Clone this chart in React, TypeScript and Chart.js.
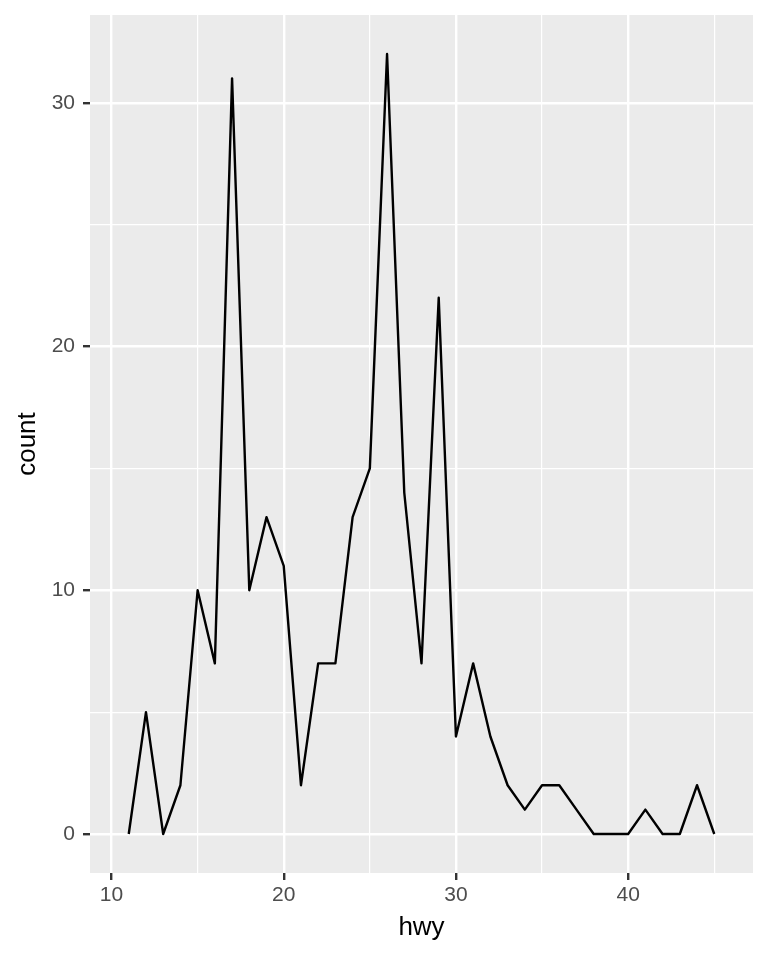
import React, { useEffect, useRef } from "react";
import { Chart, registerables } from "chart.js";

Chart.register(...registerables);

// hwy bin centres (binwidth 1) and counts
const hwyValues = [11, 12, 13, 14, 15, 16, 17, 18, 19, 20, 21, 22, 23, 24, 25, 26, 27, 28, 29, 30, 31, 32, 33, 34, 35, 36, 37, 38, 39, 40, 41, 42, 43, 44, 45];
const countValues = [0, 5, 0, 2, 10, 7, 31, 10, 13, 11, 2, 7, 7, 13, 15, 32, 14, 7, 22, 4, 7, 4, 2, 1, 2, 2, 1, 0, 0, 0, 1, 0, 0, 2, 0];

const xTickValues = [10, 15, 20, 25, 30, 35, 40, 45];
const xMajorTicks = [10, 20, 30, 40];
const yTickValues = [0, 5, 10, 15, 20, 25, 30];
const yMajorTicks = [0, 10, 20, 30];

const xTitle = "hwy";
const yTitle = "count";

const FONT = "'Liberation Sans', Arial, Helvetica, sans-serif";

const panelBg = {
  id: "panelBg",
  beforeDraw(chart: any) {
    const { ctx, chartArea } = chart;
    ctx.save();
    ctx.fillStyle = "#EBEBEB";
    ctx.fillRect(chartArea.left, chartArea.top, chartArea.right - chartArea.left, chartArea.bottom - chartArea.top);
    ctx.restore();
  },
};

export default function App() {
  const ref = useRef<HTMLCanvasElement>(null);

  useEffect(() => {
    if (!ref.current) return;
    const isMajor = (list: number[]) => (c: any) => c.tick && list.includes(c.tick.value);
    const xMaj = isMajor(xMajorTicks);
    const yMaj = isMajor(yMajorTicks);
    const chart = new Chart(ref.current, {
      type: "line",
      data: {
        datasets: [
          {
            data: hwyValues.map((x, i) => ({ x, y: countValues[i] })),
            borderColor: "#000000",
            borderWidth: 2.4,
            pointRadius: 0,
            pointHoverRadius: 0,
            tension: 0,
            fill: false,
            borderJoinStyle: "round",
          },
        ],
      },
      options: {
        responsive: false,
        animation: false,
        events: [],
        layout: { padding: { top: 15, right: 15, left: 0, bottom: 0 } },
        plugins: { legend: { display: false }, tooltip: { enabled: false } },
        scales: {
          x: {
            type: "linear",
            min: 8.75,
            max: 47.25,
            afterBuildTicks: (s: any) => {
              s.ticks = xTickValues.map((v) => ({ value: v }));
            },
            afterFit: (s: any) => {
              s.height = 87;
              s.paddingLeft = 0;
              s.paddingRight = 0;
            },
            ticks: {
              autoSkip: false,
              maxRotation: 0,
              padding: 3,
              color: "#4D4D4D",
              font: { family: FONT, size: 21 },
              callback: (v: any) => (xMajorTicks.includes(Number(v)) ? String(v) : ""),
            },
            grid: {
              color: "#FFFFFF",
              lineWidth: (c: any) => (xMaj(c) ? 2.4 : 1.2),
              tickColor: (c: any) => (xMaj(c) ? "#333333" : "rgba(0,0,0,0)"),
              tickWidth: (c: any) => (xMaj(c) ? 2.4 : 0),
              tickLength: 7,
            },
            border: { display: false },
            title: {
              display: true,
              text: xTitle,
              color: "#000000",
              font: { family: FONT, size: 26 },
              padding: { top: 0, bottom: 16.4 },
            },
          },
          y: {
            type: "linear",
            min: -1.6,
            max: 33.6,
            afterBuildTicks: (s: any) => {
              s.ticks = yTickValues.map((v) => ({ value: v }));
            },
            afterFit: (s: any) => {
              s.width = 90;
              s.paddingTop = 0;
              s.paddingBottom = 0;
            },
            ticks: {
              autoSkip: false,
              padding: 8,
              color: "#4D4D4D",
              font: { family: FONT, size: 21 },
              callback: (v: any) => (yMajorTicks.includes(Number(v)) ? String(v) : ""),
            },
            grid: {
              color: "#FFFFFF",
              lineWidth: (c: any) => (yMaj(c) ? 2.4 : 1.2),
              tickColor: (c: any) => (yMaj(c) ? "#333333" : "rgba(0,0,0,0)"),
              tickWidth: (c: any) => (yMaj(c) ? 2.4 : 0),
              tickLength: 7,
            },
            border: { display: false },
            title: {
              display: true,
              text: yTitle,
              color: "#000000",
              font: { family: FONT, size: 26 },
              padding: { top: 12.4, bottom: 0 },
            },
          },
        },
      },
      plugins: [panelBg],
    } as any);
    return () => chart.destroy();
  }, []);

  return (
    <div style={{ position: "fixed", left: 0, top: 0, width: 768, height: 960, background: "#FFFFFF" }}>
      <canvas ref={ref} width={768} height={960} style={{ display: "block", width: 768, height: 960 }} />
    </div>
  );
}
